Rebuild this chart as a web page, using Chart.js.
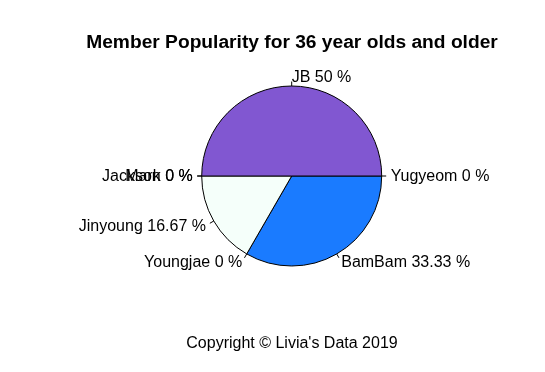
<!DOCTYPE html>
<html>
<head>
<meta charset="utf-8">
<script src="https://cdn.jsdelivr.net/npm/chart.js@4"></script>
<style>
  html, body { margin: 0; padding: 0; background: #fff; }
  #wrap { width: 545px; height: 372px; }
</style>
</head>
<body>
<div id="wrap"><canvas id="pieChart" width="545" height="372"></canvas></div>
<script>
// slices in R order (counter-clockwise from 3 o'clock)
const members = ['Yugyeom', 'JB', 'Mark', 'Jackson', 'Jinyoung', 'Youngjae', 'BamBam'];
const shares = [0, 50, 0, 0, 16.67, 0, 33.33];
const sliceColors = ['#F5FFFA', '#8157D1', '#F5FFFA', '#F5FFFA', '#F5FFFA', '#F5FFFA', '#1A7BFF'];
const chartTitle = 'Member Popularity for 36 year olds and older';
const caption = "Copyright \u00A9 Livia's Data 2019";

// Chart.js goes clockwise, so feed the slices reversed and start at 3 o'clock
const labels = members.slice().reverse();
const values = shares.slice().reverse();
const colors = sliceColors.slice().reverse();

const pieText = {
    id: 'pieText',
    afterDatasetsDraw(chart) {
        const ctx = chart.ctx;
        const meta = chart.getDatasetMeta(0);
        ctx.save();
        ctx.fillStyle = '#000';
        ctx.strokeStyle = '#000';
        ctx.lineWidth = 1;
        ctx.font = '16px "Liberation Sans", Arial, sans-serif';
        ctx.textBaseline = 'middle';
        meta.data.forEach((arc, i) => {
            const mid = (arc.startAngle + arc.endAngle) / 2;
            const r = arc.outerRadius;
            const c = Math.cos(mid), s = Math.sin(mid);
            ctx.beginPath();
            ctx.moveTo(arc.x + r * c, arc.y + r * s);
            ctx.lineTo(arc.x + 1.05 * r * c, arc.y + 1.05 * r * s);
            ctx.stroke();
            ctx.textAlign = c < -1e-6 ? 'right' : 'left';
            const txt = labels[i] + ' ' + values[i] + ' %';
            ctx.fillText(txt, arc.x + 1.1 * r * c, arc.y + 1.1 * r * s + 1);
        });

        ctx.textAlign = 'center';
        ctx.textBaseline = 'alphabetic';
        ctx.font = 'bold 19.2px "Liberation Sans", Arial, sans-serif';
        ctx.fillText(chartTitle, 292, 47.7);
        ctx.font = '16px "Liberation Sans", Arial, sans-serif';
        ctx.fillText(caption, 292, 348.3);
        ctx.restore();
    }
};

new Chart(document.getElementById('pieChart'), {
    type: 'pie',
    data: {
        labels: labels,
        datasets: [{
            data: values,
            backgroundColor: colors,
            borderColor: '#000',
            borderWidth: 1,
            hoverOffset: 0,
            offset: 0
        }]
    },
    options: {
        responsive: false,
        animation: false,
        rotation: 90,
        radius: 90,
        layout: { padding: { left: 201.7, right: 163.3, top: 86, bottom: 106 } },
        plugins: {
            legend: { display: false },
            tooltip: { enabled: false },
            title: { display: false }
        }
    },
    plugins: [pieText]
});
</script>
</body>
</html>
